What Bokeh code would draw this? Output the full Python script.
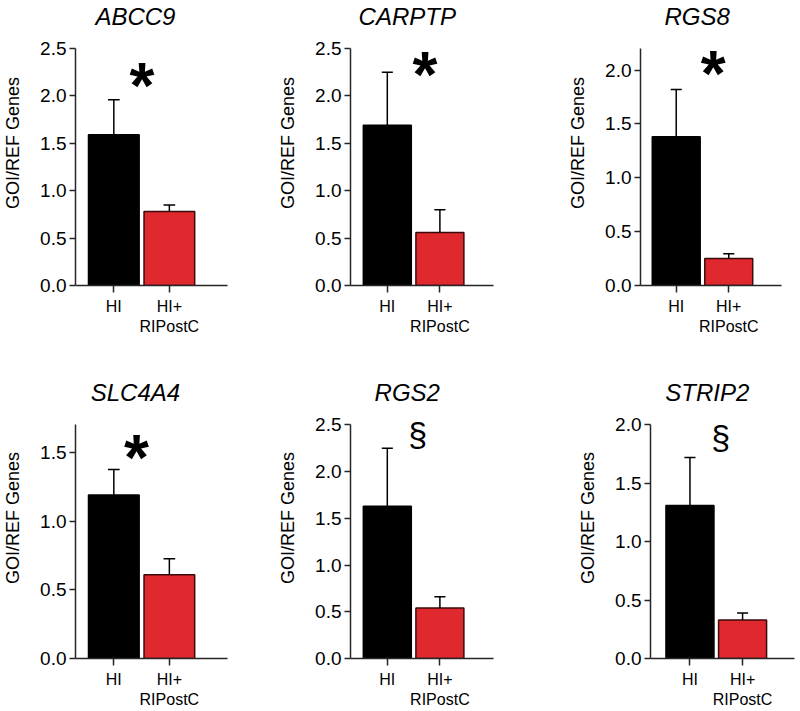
from bokeh.plotting import figure
from bokeh.layouts import column, row
from bokeh.models import FixedTicker, ColumnDataSource
from bokeh.core.properties import value
from bokeh.embed import file_html
from bokeh.resources import INLINE

# ---- data ----
genes = ["ABCC9", "CARPTP", "RGS8", "SLC4A4", "RGS2", "STRIP2"]
group_labels = ["HI", "HI+\nRIPostC"]
hi_mean = [1.59, 1.69, 1.38, 1.19, 1.63, 1.31]
hi_sem = [0.37, 0.56, 0.44, 0.185, 0.62, 0.41]
ri_mean = [0.78, 0.56, 0.25, 0.61, 0.54, 0.33]
ri_sem = [0.07, 0.24, 0.045, 0.115, 0.12, 0.06]
y_max = [2.5, 2.5, 2.2, 1.7, 2.5, 2.0]
y_ticks = [
    [0.0, 0.5, 1.0, 1.5, 2.0, 2.5],
    [0.0, 0.5, 1.0, 1.5, 2.0, 2.5],
    [0.0, 0.5, 1.0, 1.5, 2.0],
    [0.0, 0.5, 1.0, 1.5],
    [0.0, 0.5, 1.0, 1.5, 2.0, 2.5],
    [0.0, 0.5, 1.0, 1.5, 2.0],
]
sig_mark = ["*", "*", "*", "*", "§", "§"]
sig_x = [1.58, 1.79, 1.78, 1.48, 1.69, 1.70]
sig_y = [2.19, 2.31, 2.04, 1.52, 2.35, 1.85]

# ---- layout (pixels) ----
FONT = "Liberation Sans"
RED = "#e0292f"
AX = "#262626"
PX_PER_UNIT = 57.0
widths = [275, 290, 227, 275, 300, 223]
left_b = [71, 63, 63, 71, 63, 63]
frame_w = [156, 155, 153, 156, 155, 156]
x_start = [0.31, 0.30, 0.32, 0.31, 0.30, 0.25]
row_h = [377, 333]
bot_b = [92, 48]
FRAME_H = 285      # frame height (title area + plot area)
PLOT_H = 237       # pixel height from 0 to y_max
TITLE_CENTER_PX = 61.5
TITLE_RAISE = 32


def panel(i):
    r = 0 if i < 3 else 1
    h = row_h[r]
    xs = x_start[i]
    y_end = y_max[i] * FRAME_H / PLOT_H
    p = figure(
        width=widths[i], height=h, output_backend="svg", toolbar_location=None,
        x_range=(xs, xs + frame_w[i] / PX_PER_UNIT), y_range=(0, y_end),
        min_border_left=left_b[i], min_border_right=widths[i] - left_b[i] - frame_w[i],
        min_border_top=0, min_border_bottom=bot_b[r],
    )
    p.outline_line_color = None
    p.background_fill_color = "white"
    p.border_fill_color = "white"
    p.grid.visible = False

    # panel title (gene name)
    p.text(x=[xs + TITLE_CENTER_PX / PX_PER_UNIT], y=[y_max[i]], text=[genes[i]],
           y_offset=-TITLE_RAISE, text_font=value(FONT), text_font_style="italic",
           text_font_size="24px", text_align="center", text_baseline="alphabetic",
           text_color="black")

    xs_bar = [1, 2]
    means = [hi_mean[i], ri_mean[i]]
    sems = [hi_sem[i], ri_sem[i]]
    tops = [m + s for m, s in zip(means, sems)]
    src = ColumnDataSource(dict(x=xs_bar, top=means, fill=["black", RED],
                                line=["black", "#3b0b0b"]))
    p.vbar(x="x", top="top", bottom=0, width=52 / PX_PER_UNIT, source=src,
           fill_color="fill", line_color="line", line_width=1.5)
    cap = 6 / PX_PER_UNIT
    p.segment(x0=xs_bar, y0=means, x1=xs_bar, y1=tops, line_color="black", line_width=1.5)
    p.segment(x0=[x - cap for x in xs_bar], y0=tops, x1=[x + cap for x in xs_bar], y1=tops,
              line_color="black", line_width=1.5)

    if sig_mark[i] == "*":
        p.text(x=[sig_x[i]], y=[sig_y[i]], text=[sig_mark[i]], text_font=value(FONT),
               text_font_style="bold", text_font_size="64px", text_align="center",
               text_baseline="alphabetic", x_offset=-4, y_offset=8, text_color="black")
    else:
        p.text(x=[sig_x[i]], y=[sig_y[i]], text=[sig_mark[i]], text_font=value(FONT),
               text_font_size="34px", text_align="center",
               text_baseline="alphabetic", x_offset=-6, y_offset=-5, text_color="black")

    xa = p.xaxis[0]
    xa.ticker = FixedTicker(ticks=xs_bar)
    xa.major_label_overrides = {1: group_labels[0], 2: group_labels[1]}
    xa.minor_tick_line_color = None
    xa.major_tick_out = 7
    xa.major_tick_in = 0
    xa.major_label_standoff = 5
    xa.major_label_text_font = FONT
    xa.major_label_text_font_size = "16px"
    xa.major_label_text_color = "black"
    xa.axis_line_width = 1.5
    xa.axis_line_color = AX
    xa.major_tick_line_width = 1.5
    xa.major_tick_line_color = AX

    ya = p.yaxis[0]
    ya.bounds = (0, y_max[i])
    ya.ticker = FixedTicker(ticks=y_ticks[i])
    ya.major_label_overrides = {t: f"{t:.1f}" for t in y_ticks[i]}
    ya.minor_tick_line_color = None
    ya.major_tick_out = 6
    ya.major_tick_in = 0
    ya.major_label_standoff = 3
    ya.major_label_text_font = FONT
    ya.major_label_text_font_size = "19px"
    ya.major_label_text_color = "black"
    ya.axis_line_width = 1.5
    ya.axis_line_color = AX
    ya.major_tick_line_width = 1.5
    ya.major_tick_line_color = AX
    ya.axis_label = "GOI/REF Genes"
    ya.axis_label_text_font = FONT
    ya.axis_label_text_font_size = "18px"
    ya.axis_label_text_font_style = "normal"
    ya.axis_label_text_color = "black"
    ya.axis_label_standoff = 14
    return p


plots = [panel(i) for i in range(6)]
layout = column(row(*plots[:3], spacing=0), row(*plots[3:], spacing=0), spacing=0)
open("out.html", "w").write(file_html(layout, INLINE))
